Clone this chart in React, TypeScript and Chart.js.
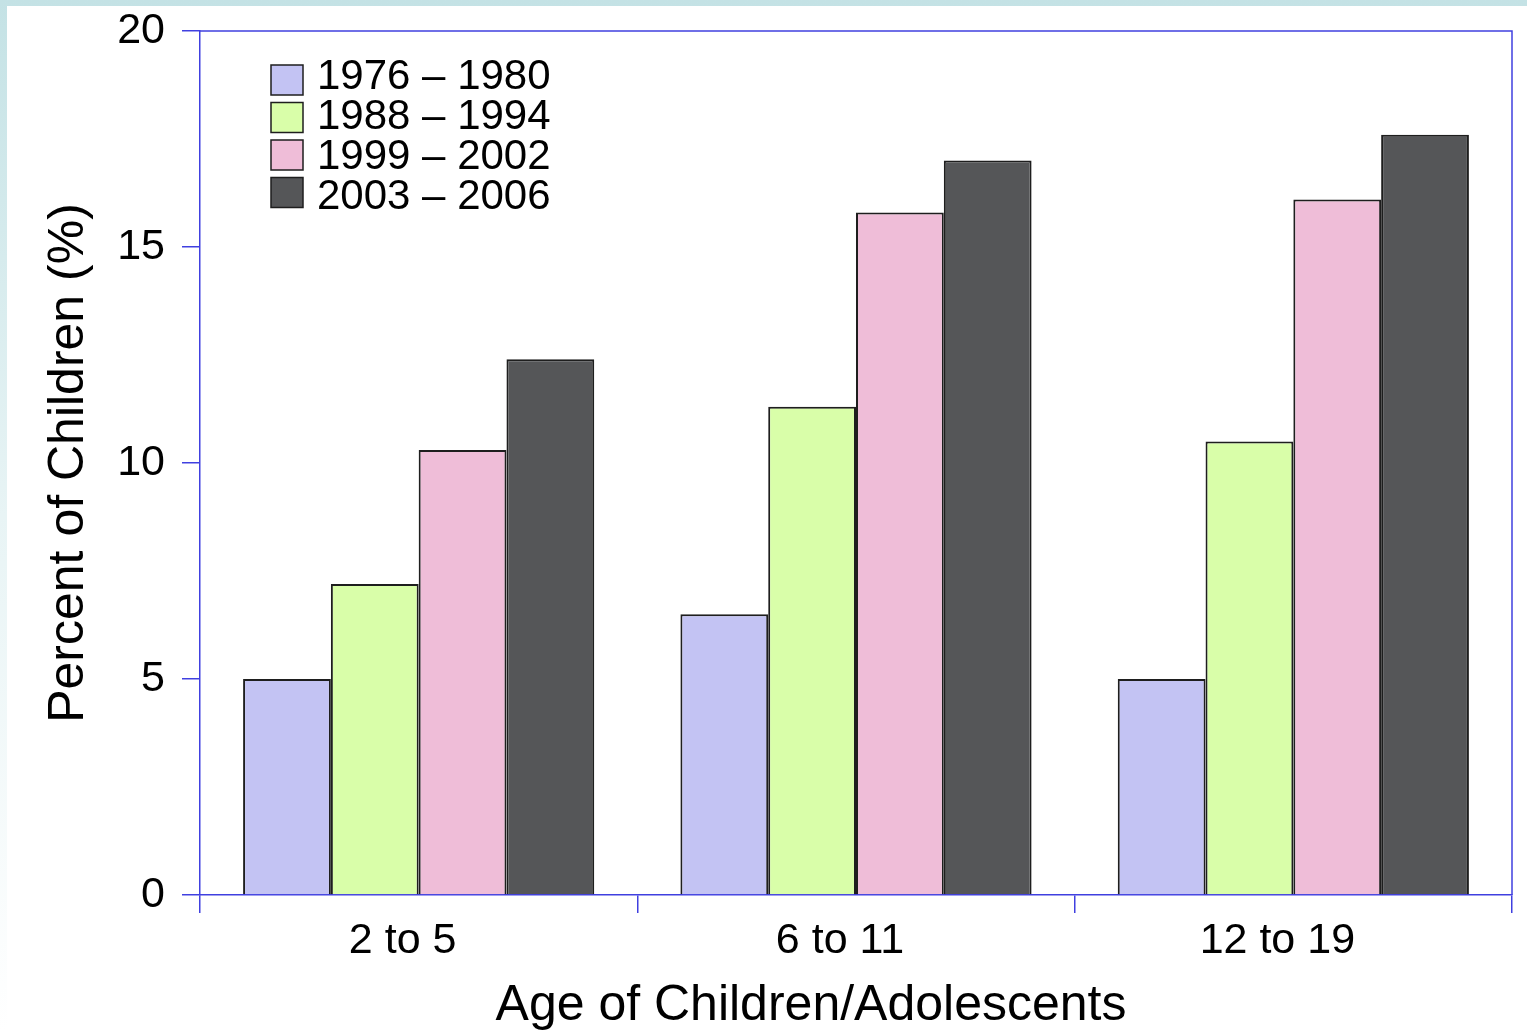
import React, { useEffect, useRef } from "react";
import { Chart, registerables } from "chart.js";

Chart.register(...registerables);

const categories = ["2 to 5", "6 to 11", "12 to 19"];
const seriesLabels = ["1976 – 1980", "1988 – 1994", "1999 – 2002", "2003 – 2006"];
const values1976 = [5.0, 6.5, 5.0];
const values1988 = [7.2, 11.3, 10.5];
const values1999 = [10.3, 15.8, 16.1];
const values2003 = [12.4, 17.0, 17.6];
const seriesColors = ["#c3c3f3", "#d9fea9", "#efbdd8", "#555658"];
const yMin = 0;
const yMax = 20;
const yStep = 5;
const yTitle = "Percent of Children (%)";
const xTitle = "Age of Children/Adolescents";

const FONT = "'Liberation Sans', Arial, Helvetica, sans-serif";
const AXIS = "#4040e0";
const EDGE = "#1e1e1e";

const decorPlugin = {
  id: "decor",
  afterDraw(chart: any) {
    const { ctx, chartArea: a } = chart;
    ctx.save();
    // top and right frame
    ctx.strokeStyle = AXIS;
    ctx.lineWidth = 1.5;
    ctx.beginPath();
    ctx.moveTo(a.left, a.top);
    ctx.lineTo(a.right, a.top);
    ctx.lineTo(a.right, a.bottom);
    ctx.stroke();

    // legend
    ctx.font = `42px ${FONT}`;
    ctx.textBaseline = "middle";
    ctx.textAlign = "left";
    chart.data.datasets.forEach((ds: any, i: number) => {
      const bx = a.left + 71;
      const by = a.top + 34 + i * 37.5;
      ctx.fillStyle = ds.backgroundColor;
      ctx.fillRect(bx, by, 32, 30);
      ctx.strokeStyle = EDGE;
      ctx.lineWidth = 1.5;
      ctx.strokeRect(bx, by, 32, 30);
      ctx.fillStyle = "#000";
      ctx.fillText(ds.label, bx + 46, a.top + 46 + i * 40);
    });

    // x axis title
    ctx.font = `50px ${FONT}`;
    ctx.textAlign = "center";
    ctx.textBaseline = "alphabetic";
    ctx.fillStyle = "#000";
    ctx.fillText(xTitle, (a.left + a.right) / 2 - 45, a.bottom + 125);
    ctx.restore();
  },
};

export default function App() {
  const ref = useRef<HTMLCanvasElement | null>(null);

  useEffect(() => {
    if (!ref.current) return;
    const seriesValues = [values1976, values1988, values1999, values2003];
    const chart = new Chart(ref.current, {
      type: "bar",
      data: {
        labels: categories,
        datasets: seriesLabels.map((label, i) => ({
          label,
          data: seriesValues[i],
          backgroundColor: seriesColors[i],
          borderColor: EDGE,
          borderWidth: 2,
          barPercentage: 1,
          categoryPercentage: 0.803,
        })),
      },
      options: {
        responsive: false,
        maintainAspectRatio: false,
        animation: false,
        layout: { padding: { left: 0, top: 31, right: 15, bottom: 0 } },
        plugins: {
          legend: { display: false },
          tooltip: { enabled: false },
        },
        scales: {
          x: {
            grid: {
              drawOnChartArea: false,
              color: AXIS,
              tickColor: AXIS,
              tickLength: 18,
              lineWidth: 1.5,
              offset: true,
            },
            border: { color: AXIS, width: 1.5 },
            ticks: {
              color: "#000",
              font: { family: FONT, size: 43 },
              padding: 2,
              labelOffset: -16,
              maxRotation: 0,
            },
            afterFit: (s: any) => {
              s.height = 136;
              s.paddingLeft = 0;
              s.paddingRight = 0;
            },
          },
          y: {
            min: yMin,
            max: yMax,
            grid: {
              drawOnChartArea: false,
              color: AXIS,
              tickColor: AXIS,
              tickLength: 18,
              lineWidth: 1.5,
            },
            border: { color: AXIS, width: 1.5 },
            ticks: {
              stepSize: yStep,
              color: "#000",
              font: { family: FONT, size: 43 },
              padding: 17,
            },
            title: {
              display: true,
              text: yTitle,
              color: "#000",
              font: { family: FONT, size: 50 },
              padding: { top: 39, bottom: 0 },
            },
            afterFit: (s: any) => {
              s.width = 200;
              s.paddingTop = 0;
              s.paddingBottom = 0;
            },
          },
        },
      },
      plugins: [decorPlugin],
    });
    return () => chart.destroy();
  }, []);

  return (
    <div
      style={{
        position: "fixed",
        left: 0,
        top: 0,
        width: 1527,
        height: 1031,
        background: "linear-gradient(to bottom, #c4e2e5 0%, #e8f4f5 50%, #ffffff 100%)",
        overflow: "hidden",
      }}
    >
      <div
        style={{
          position: "absolute",
          left: 7,
          top: 6,
          width: 1520,
          height: 1025,
          background: "#ffffff",
        }}
      />
      <canvas
        ref={ref}
        width={1527}
        height={1031}
        style={{ position: "absolute", left: 0, top: 0, width: 1527, height: 1031 }}
      />
    </div>
  );
}
